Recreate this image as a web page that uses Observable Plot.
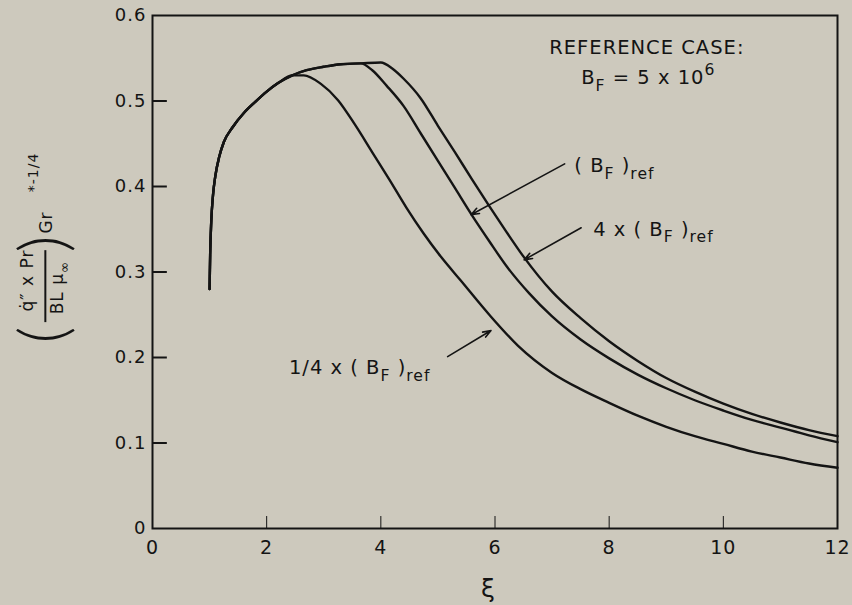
<!DOCTYPE html>
<html><head><meta charset="utf-8">
<script src="https://cdn.jsdelivr.net/npm/d3@7"></script>
<script src="https://cdn.jsdelivr.net/npm/@observablehq/plot@0.6"></script>
<style>
html,body{margin:0;padding:0;background:#cdc9bd;}
#chart svg{display:block;}
</style></head><body><div id="chart"></div>
<script>
// shared rising branch (all three cases coincide)
const risingXi = [1.00,1.01,1.03,1.06,1.10,1.17,1.25,1.40,1.60,1.80,2.00,2.20,2.45];
const risingQ  = [0.280,0.320,0.360,0.390,0.412,0.435,0.452,0.469,0.486,0.499,0.511,0.521,0.530];
// 1/4 x (B_F)ref
const quarterXi = [2.65,2.95,3.25,3.55,3.85,4.15,4.45,4.75,5.05,5.40,5.90,6.40,7.00,7.50,8.00,8.50,9.00,9.50,10.0,10.5,11.0,11.5,12.0];
const quarterQ  = [0.530,0.520,0.501,0.472,0.440,0.408,0.375,0.345,0.318,0.290,0.250,0.214,0.182,0.163,0.147,0.132,0.119,0.108,0.099,0.090,0.083,0.076,0.071];
// shared upper plateau of (B_F)ref and 4 x (B_F)ref
const plateauXi = [2.70,3.00,3.30,3.65];
const plateauQ  = [0.536,0.540,0.543,0.544];
// (B_F)ref
const refXi = [3.85,4.10,4.40,4.70,5.00,5.30,5.60,5.90,6.20,6.60,7.00,7.50,8.00,8.50,9.00,9.50,10.0,10.5,11.0,11.5,12.0];
const refQ  = [0.536,0.518,0.494,0.462,0.430,0.398,0.366,0.336,0.307,0.275,0.248,0.221,0.199,0.180,0.164,0.150,0.138,0.127,0.118,0.109,0.101];
// 4 x (B_F)ref
const fourXi = [4.00,4.20,4.40,4.70,5.00,5.30,5.60,5.90,6.20,6.50,7.00,7.50,8.00,8.50,9.00,9.50,10.0,10.5,11.0,11.5,12.0];
const fourQ  = [0.545,0.538,0.526,0.503,0.471,0.440,0.408,0.377,0.347,0.318,0.277,0.246,0.219,0.196,0.176,0.160,0.146,0.134,0.124,0.115,0.108];

const xTicks = [0,2,4,6,8,10,12];
const yTicks = [0,0.1,0.2,0.3,0.4,0.5,0.6];

function series(name, xs, qs) { return xs.map((x,i)=>({series:name, xi:x, q:qs[i]})); }
const table = [
  ...series("quarter", [...risingXi, ...quarterXi], [...risingQ, ...quarterQ]),
  ...series("ref", [...risingXi, ...plateauXi, ...refXi], [...risingQ, ...plateauQ, ...refQ]),
  ...series("four", [...risingXi, ...plateauXi, ...fourXi], [...risingQ, ...plateauQ, ...fourQ])
];

const ink = "#141414";
const F = "DejaVu Sans";
const L = 152, T = 15, R = 15, B = 77;
const midY = (T + (605 - B)) / 2;
const ylab = (text, cx, cy, fs, extra={}) => Plot.text([text], {frameAnchor:"left", textAnchor:"middle", lineAnchor:"middle", rotate:-90, dx:cx-L, dy:cy-midY, fontSize:fs, fill:ink, fontFamily:F, ...extra});
const note = (text, x, y) => Plot.text([text], {x, y, textAnchor:"start", lineAnchor:"middle", fontSize:19.5, fill:ink, fontFamily:F});

const chart = Plot.plot({
  width: 852, height: 605,
  marginLeft: L, marginRight: R, marginTop: T, marginBottom: B,
  style: {background:"#cdc9bd", color: ink, fontFamily: F, letterSpacing: "1px"},
  x: {domain:[0,12]},
  y: {domain:[0,0.6]},
  marks: [
    Plot.axisX(xTicks, {tickSize:0, tickPadding:12, fontSize:19, label:null, fill:ink}),
    Plot.axisY(yTicks, {tickSize:0, tickPadding:6, fontSize:18, label:null, fill:ink, tickFormat: d => d === 0 ? "0" : d.toFixed(1)}),
    Plot.ruleY(yTicks.filter(d => d > 0 && d < 0.6), {x1:0, x2:0.26, stroke:ink, strokeWidth:2}),
    Plot.ruleX(xTicks.filter(d => d > 0 && d < 12), {y1:0, y2:0.014, stroke:ink, strokeWidth:1}),
    Plot.frame({stroke:ink, strokeWidth:2}),
    Plot.line(table, {x:"xi", y:"q", z:"series", stroke:ink, strokeWidth:2.4, curve:"monotone-x"}),
    // leader arrows
    Plot.arrow([0], {x1:7.22, y1:0.4265, x2:5.58, y2:0.367, stroke:ink, strokeWidth:1.6, headLength:8, headAngle:40}),
    Plot.arrow([0], {x1:7.51, y1:0.3517, x2:6.51, y2:0.3142, stroke:ink, strokeWidth:1.6, headLength:8, headAngle:40}),
    Plot.arrow([0], {x1:5.17, y1:0.201, x2:5.93, y2:0.2316, stroke:ink, strokeWidth:1.6, headLength:8, headAngle:40}),
    // annotations
    note("REFERENCE CASE:", 6.95, 0.5626),
    note("B_{F} = 5 x 10^{6}", 7.51, 0.527),
    note("( B_{F} )_{ref}", 7.39, 0.4245),
    note("4 x ( B_{F} )_{ref}", 7.72, 0.35),
    note("1/4 x ( B_{F} )_{ref}", 2.39, 0.188),
    // x label
    Plot.text(["ξ"], {frameAnchor:"bottom", lineAnchor:"middle", dx:488-(L+837)/2, dy:60, fontSize:25, fill:ink, fontFamily:F}),
    // y label pieces
    ylab("(", 44, 334, 66, {fontFamily:"Lato", fontWeight:300}),
    ylab(")", 44, 243, 66, {fontFamily:"Lato", fontWeight:300}),
    ylab("q̇″\u00a0x\u00a0Pr", 27, 280, 17),
    ylab("BL\u00a0μ_{∞}", 57, 287, 17),
    Plot.ruleX([(45 - L) / 57], {y1:(528-322)/855.5, y2:(528-250)/855.5, stroke:ink, strokeWidth:2}),
    ylab("Gr", 46, 222, 17),
    ylab("*-1/4", 33, 172, 14)
  ]
});

// turn _{..} / ^{..} markup into sub/superscript tspans
chart.querySelectorAll("text").forEach(t => {
  const s = t.textContent;
  if (!/[_^]\{/.test(s)) return;
  const fs = parseFloat(t.closest("[font-size]")?.getAttribute("font-size")) || 19;
  const parts = [];
  const re = /([_^])\{([^}]*)\}/g;
  let last = 0, m;
  while ((m = re.exec(s))) {
    if (m.index > last) parts.push({t:s.slice(last, m.index), k:"n"});
    parts.push({t:m[2], k:m[1] === "_" ? "sub" : "sup"});
    last = re.lastIndex;
  }
  if (last < s.length) parts.push({t:s.slice(last), k:"n"});
  while (t.firstChild) t.removeChild(t.firstChild);
  let cur = 0;
  const ns = "http://www.w3.org/2000/svg";
  for (const p of parts) {
    const sp = document.createElementNS(ns, "tspan");
    const target = p.k === "sub" ? fs * 0.35 : p.k === "sup" ? -fs * 0.45 : 0;
    sp.setAttribute("dy", (target - cur).toFixed(2));
    cur = target;
    if (p.k !== "n") sp.setAttribute("font-size", (fs * 0.8).toFixed(1));
    sp.textContent = p.t;
    t.appendChild(sp);
  }
});

document.getElementById("chart").appendChild(chart);
</script>
</body></html>
